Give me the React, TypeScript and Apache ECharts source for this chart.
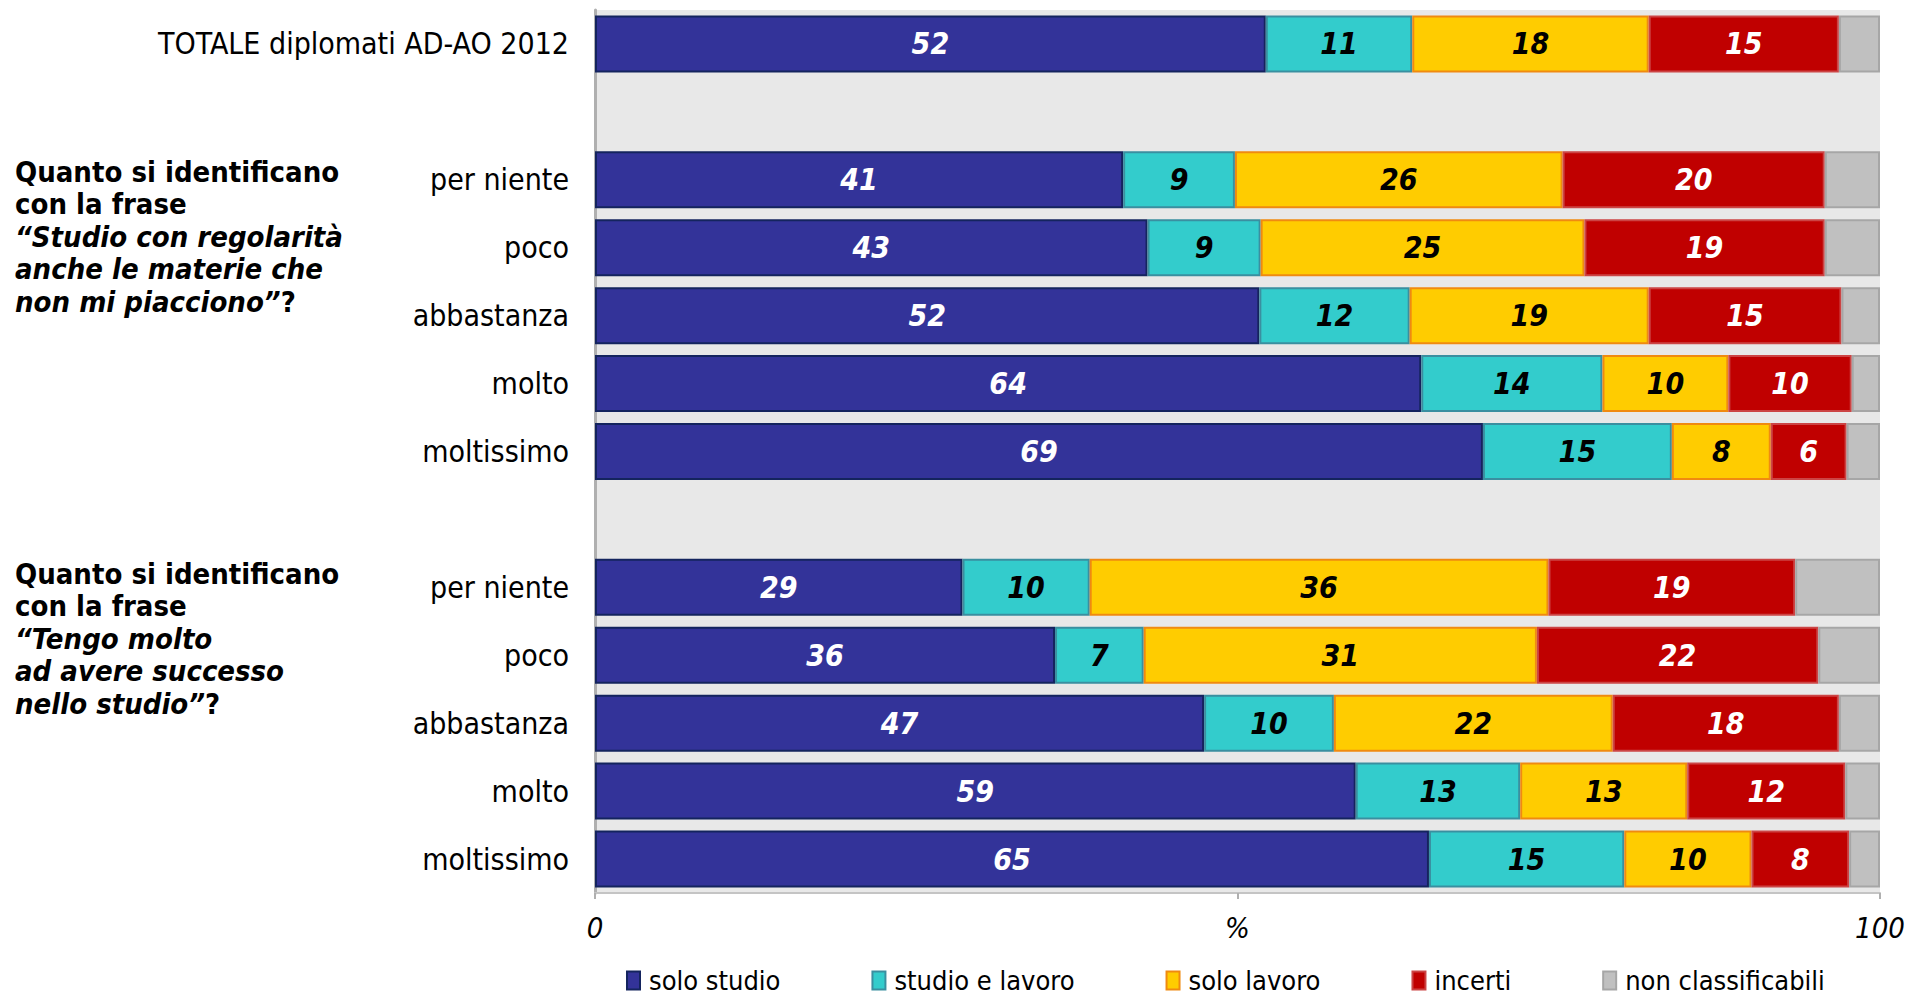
import React, { useEffect, useRef } from "react";
import * as echarts from "echarts";

const categories = [
  "TOTALE diplomati AD-AO 2012",
  "",
  "per niente",
  "poco",
  "abbastanza",
  "molto",
  "moltissimo",
  " ",
  "per niente",
  "poco",
  "abbastanza",
  "molto",
  "moltissimo",
];

const soloStudio = [52.2, null, 41.1, 43.0, 51.7, 64.3, 69.1, null, 28.6, 35.8, 47.4, 59.2, 64.9];
const studioLavoro = [11.4, null, 8.7, 8.8, 11.7, 14.1, 14.7, null, 9.9, 6.9, 10.1, 12.8, 15.2];
const soloLavoro = [18.4, null, 25.5, 25.2, 18.6, 9.8, 7.7, null, 35.7, 30.6, 21.7, 13.0, 9.9];
const incerti = [14.8, null, 20.4, 18.7, 15.0, 9.6, 5.9, null, 19.2, 21.9, 17.6, 12.3, 7.6];
const nonClassificabili = [3.2, null, 4.3, 4.3, 3.0, 2.2, 2.6, null, 6.6, 4.8, 3.2, 2.7, 2.4];

const seriesNames = ["solo studio", "studio e lavoro", "solo lavoro", "incerti", "non classificabili"];

const heading1 = [
  { text: "Quanto si identificano", italic: false },
  { text: "con la frase", italic: false },
  { text: "“Studio con regolarità", italic: true },
  { text: "anche le materie che", italic: true },
  { text: "non mi piacciono”", italic: true, tail: "?" },
];
const heading2 = [
  { text: "Quanto si identificano", italic: false },
  { text: "con la frase", italic: false },
  { text: "“Tengo molto", italic: true },
  { text: "ad avere successo", italic: true },
  { text: "nello studio”", italic: true, tail: "?" },
];

const FONT = "'DejaVu Sans Condensed', 'DejaVu Sans', sans-serif";

export default function App() {
  const ref = useRef<HTMLDivElement>(null);

  useEffect(() => {
    if (!ref.current) return;
    const chart = echarts.init(ref.current, undefined, { renderer: "svg" });

    const makeHeading = (lines: any[], y0: number) =>
      lines.map((l, i) => ({
        type: "text",
        left: 15,
        top: y0 + i * 32.6 - 16,
        style: {
          text: l.tail ? `{i|${l.text}}{b|${l.tail}}` : `{${l.italic ? "i" : "b"}|${l.text}}`,
          rich: {
            b: { fontFamily: FONT, fontSize: 29, fontWeight: "bold", fill: "#000", lineHeight: 32 },
            i: {
              fontFamily: FONT,
              fontSize: 29,
              fontWeight: "bold",
              fontStyle: "italic",
              fill: "#000",
              lineHeight: 32,
            },
          },
        },
      }));

    const labelFor = (color: string) => ({
      show: true,
      position: "inside",
      color,
      fontFamily: FONT,
      fontSize: 30,
      fontWeight: "bold",
      fontStyle: "italic",
      formatter: (p: any) => String(Math.round(p.value)),
    });

    const mk = (name: string, data: any[], fill: string, border: string, label: any) => ({
      name,
      type: "bar",
      stack: "total",
      data: data.map((v) => (v === null ? "-" : v)),
      barWidth: 57,
      itemStyle: { color: fill, borderColor: border, borderWidth: 2 },
      label,
      emphasis: { disabled: true },
    });

    chart.setOption({
      animation: false,
      textStyle: { fontFamily: FONT },
      grid: {
        left: 595,
        right: 30,
        top: 10,
        bottom: 103,
        show: true,
        backgroundColor: "#e8e8e8",
        borderWidth: 0,
      },
      xAxis: {
        type: "value",
        min: 0,
        max: 100,
        interval: 50,
        axisLine: { show: true, lineStyle: { color: "#c4c4c4", width: 2 } },
        axisTick: { show: true, length: 6, lineStyle: { color: "#b0b0b0", width: 2 } },
        splitLine: { show: false },
        axisLabel: {
          margin: 20,
          fontFamily: FONT,
          fontSize: 29,
          fontStyle: "italic",
          color: "#000",
          formatter: (v: number) => (v === 50 ? "%" : String(v)),
        },
      },
      yAxis: {
        type: "category",
        inverse: true,
        data: categories,
        axisLine: { show: true, lineStyle: { color: "#b0b0b0", width: 3 } },
        axisTick: { show: false },
        axisLabel: {
          margin: 26,
          fontFamily: FONT,
          fontSize: 30,
          color: "#000",
        },
      },
      legend: {
        left: 626,
        top: 967,
        itemWidth: 13,
        itemHeight: 18,
        itemGap: 91,
        icon: "rect",
        selectedMode: false,
        padding: 0,
        textStyle: {
          fontFamily: FONT,
          fontSize: 27,
          lineHeight: 24,
          color: "#000",
          padding: [0, 0, 0, 4],
        },
        data: seriesNames,
      },
      graphic: [...makeHeading(heading1, 173), ...makeHeading(heading2, 575)],
      series: [
        mk(seriesNames[0], soloStudio, "#333399", "#14245e", labelFor("#fff")),
        mk(seriesNames[1], studioLavoro, "#33cccc", "#3a8fa0", labelFor("#000")),
        mk(seriesNames[2], soloLavoro, "#ffcc00", "#f08a10", labelFor("#000")),
        mk(seriesNames[3], incerti, "#c00000", "#cc4444", labelFor("#fff")),
        mk(seriesNames[4], nonClassificabili, "#c0c0c0", "#a6a6a6", { show: false }),
      ],
    });

    return () => chart.dispose();
  }, []);

  return (
    <div
      ref={ref}
      style={{ position: "fixed", left: 0, top: 0, width: 1910, height: 996, background: "#fff" }}
    />
  );
}
